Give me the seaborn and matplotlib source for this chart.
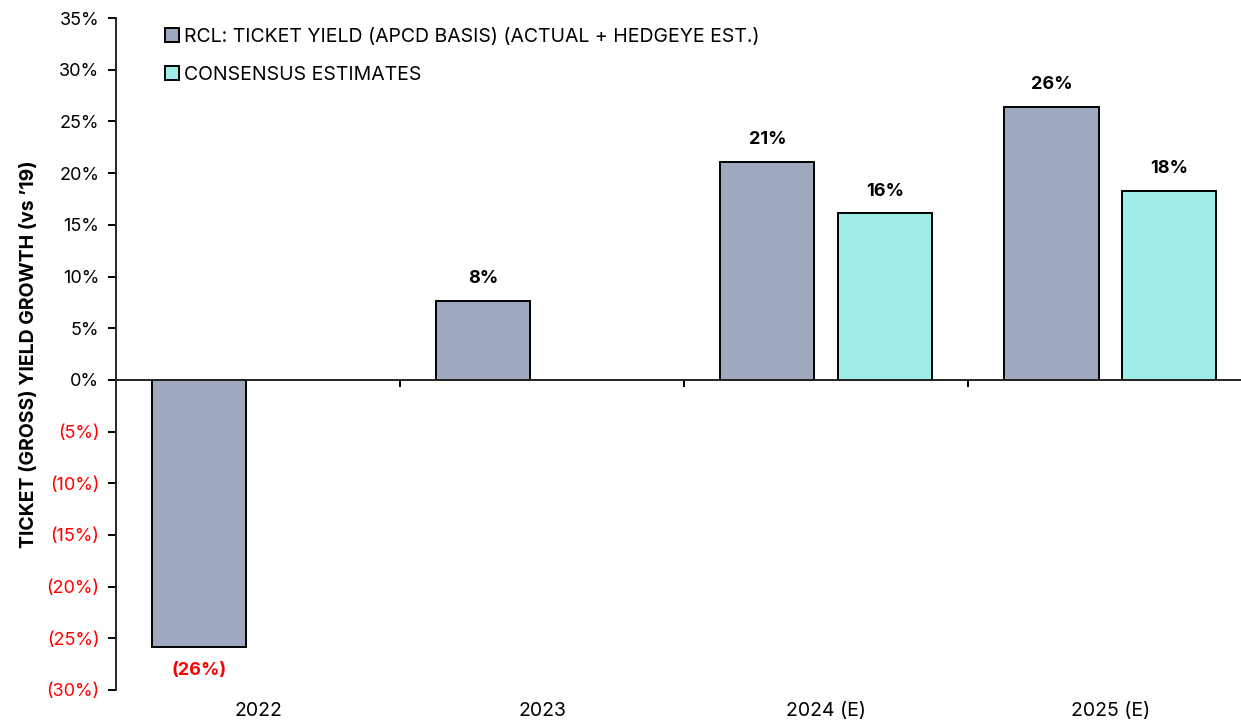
import pandas as pd
import matplotlib.pyplot as plt
import seaborn as sns
from matplotlib.ticker import FuncFormatter

# values (percent growth vs '19)
years = ["2022", "2023", "2024 (E)", "2025 (E)"]
rcl_yield = [-25.8, 7.6, 21.1, 26.4]
consensus = [None, None, 16.1, 18.3]
series_names = ["RCL: TICKET YIELD (APCD BASIS) (ACTUAL + HEDGEYE EST.)",
                "CONSENSUS ESTIMATES"]
y_ticks = list(range(-30, 40, 5))

df = pd.DataFrame({
    "Year": years * 2,
    "Series": [series_names[0]] * 4 + [series_names[1]] * 4,
    "Value": rcl_yield + consensus,
})

sns.set_style("white")
plt.rcParams["font.family"] = ["Inter", "DejaVu Sans"]
plt.rcParams["text.color"] = "black"
plt.rcParams["axes.labelcolor"] = "black"
plt.rcParams["xtick.color"] = "black"
plt.rcParams["ytick.color"] = "black"

fig = plt.figure(figsize=(12.41, 7.24), dpi=100)
ax = fig.add_axes([0.0935, 0.047, 0.9065, 0.928])

sns.barplot(
    data=df, x="Year", y="Value", hue="Series", order=years,
    hue_order=series_names, palette=["#9DA9BF", "#9EEDE6"],
    width=0.83, gap=0.2, edgecolor="black", linewidth=1.4,
    saturation=1, ax=ax, legend=True,
)

# data labels
def pct(v):
    return f"{v:.0f}%" if v >= 0 else f"({-v:.0f}%)"

for cont in ax.containers:
    for b in cont:
        h = b.get_height()
        if h >= 0:
            ax.annotate(pct(h), (b.get_x() + b.get_width() / 2, h),
                        xytext=(0, 10), textcoords="offset points", ha="center", va="bottom",
                        fontsize=13, fontweight="bold", color="black")
        else:
            ax.annotate(pct(h), (b.get_x() + b.get_width() / 2, h),
                        xytext=(0, -11), textcoords="offset points", ha="center", va="top",
                        fontsize=13, fontweight="bold", color="red")

# y axis
ax.set_ylim(-30, 35)
ax.set_yticks(y_ticks)
ax.yaxis.set_major_formatter(FuncFormatter(lambda v, p: pct(v)))
ax.tick_params(axis="y", direction="out", length=6, width=1.4, labelsize=13, left=True, pad=6)
for t, lab in zip(ax.get_yticks(), ax.get_yticklabels()):
    lab.set_color("red" if t < 0 else "black")
ax.set_ylabel("TICKET (GROSS) YIELD GROWTH (vs \u201919)", fontsize=14, fontweight="bold", labelpad=6)

# x axis: zero line with ticks between groups, labels at the bottom
ax.set_xlim(-0.5, 3.46)
ax.spines["bottom"].set_position(("data", 0))
ax.spines["bottom"].set_linewidth(1.4)
ax.spines["left"].set_linewidth(1.4)
ax.spines["top"].set_visible(False)
ax.spines["right"].set_visible(False)
ax.set_xticks([0.5, 1.5, 2.5])
ax.tick_params(axis="x", direction="out", length=5, width=1.4, labelbottom=False, bottom=True)
ax.set_xlabel("")

sec = ax.secondary_xaxis("bottom")
sec.set_xticks(range(len(years)))
sec.set_xticklabels(years)
sec.spines["bottom"].set_visible(False)
sec.tick_params(length=0, labelsize=14, pad=9)

ax.legend(loc="upper left", bbox_to_anchor=(0.028, 1.012), frameon=False, fontsize=14,
          handlelength=0.7, handleheight=0.7, handletextpad=0.25, labelspacing=1.05,
          borderaxespad=0.5)

fig.savefig("out.png", dpi=100)
